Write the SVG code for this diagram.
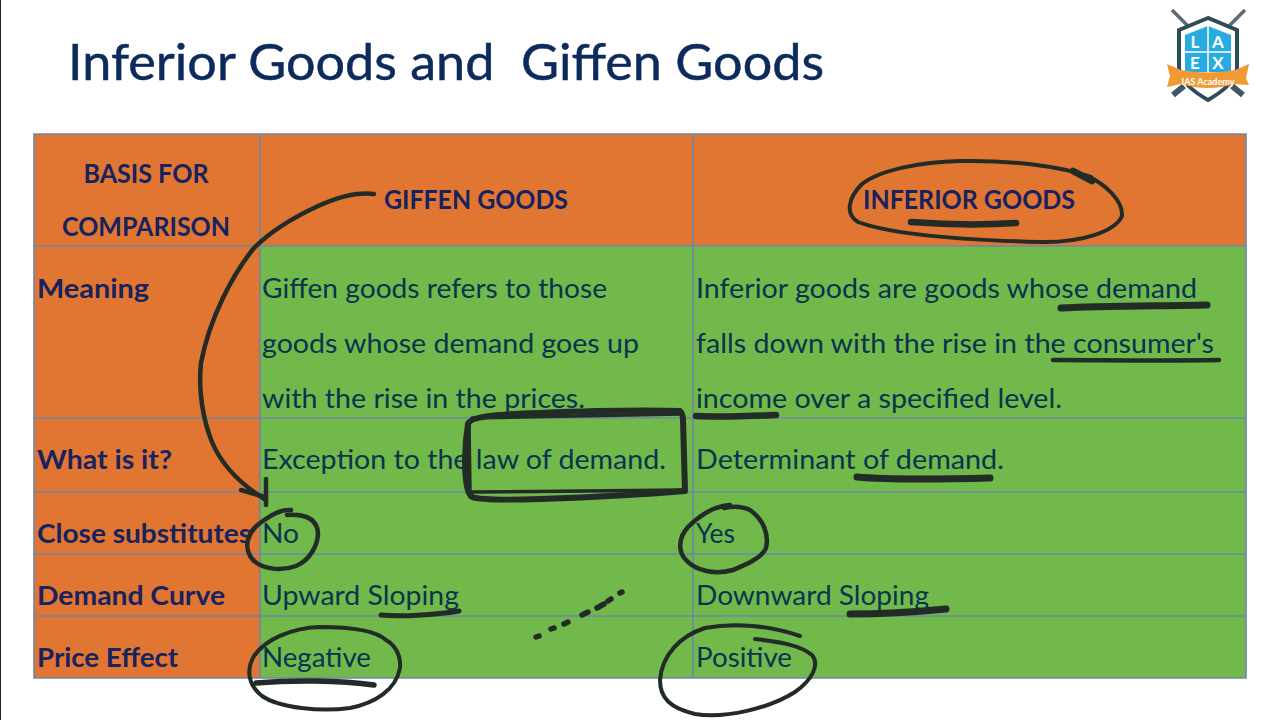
<svg xmlns="http://www.w3.org/2000/svg" width="1280" height="720" viewBox="0 0 1280 720">
<style>
text{font-family:Lato,"Open Sans","Liberation Sans",sans-serif}
.title{font-size:51px;fill:#0c2a5c;stroke:#0c2a5c;stroke-width:.5}
.h{font-size:26px;font-weight:700;fill:#17225e}
.b{font-size:27px;fill:#0b3350}
.o{fill:#e07632}
.g{fill:#70b94a}
.grid{stroke:#6f86a8;stroke-width:1.6;fill:none}
.ink{fill:none;stroke:#232b26;stroke-linecap:round;stroke-linejoin:round}
.logo{font-size:17px;font-weight:700;fill:#fff;text-anchor:middle}
</style>
<rect width="1280" height="720" fill="#fff"/>
<rect x="0" y="0" width="1" height="720" fill="#222"/>
<text class="title" x="68" y="80" textLength="756" lengthAdjust="spacingAndGlyphs" xml:space="preserve">Inferior Goods and  Giffen Goods</text>

<g id="logo">
<path d="M1172 10L1190 28M1245 10L1227 28" stroke="#5d6b72" stroke-width="3.5" fill="none"/>
<path d="M1173 95L1184 86M1243 95L1232 86" stroke="#3f5560" stroke-width="6" fill="none"/>
<path d="M1208 18L1179 30V68Q1180 84 1208 100Q1236 84 1237 68V30Z" fill="#fff" stroke="#2f4a58" stroke-width="4"/>
<path d="M1208 26L1185 35V72H1231V35Z" fill="#29abe2"/>
<path d="M1208 26V72M1185 52H1231" stroke="#fff" stroke-width="1.5"/>
<text class="logo" x="1195" y="48">L</text><text class="logo" x="1218" y="48">A</text>
<text class="logo" x="1195" y="69">E</text><text class="logo" x="1218" y="69">X</text>
<path d="M1167 64L1181 70Q1208 75 1235 70L1249 64L1246 78L1249 85L1235 84Q1208 92 1181 84L1167 87L1170 76Z" fill="#ef9a33"/>
<text x="1208" y="85" font-size="9" fill="#fff" text-anchor="middle" font-weight="700">IAS Academy</text>
</g>

<g id="table">
<rect class="o" x="34" y="134" width="1212" height="112"/>
<rect class="o" x="34" y="246" width="226" height="432"/>
<rect class="g" x="260" y="246" width="986" height="432"/>
<path class="grid" d="M34 134H1246V678H34ZM260 134V678M693 134V678M34 246H1246M34 418H1246M34 492H1246M34 554H1246M34 616H1246"/>
</g>

<g id="header">
<text class="h" x="146" y="183" text-anchor="middle" textLength="125" lengthAdjust="spacingAndGlyphs">BASIS FOR</text>
<text class="h" x="146" y="236" text-anchor="middle" textLength="168" lengthAdjust="spacingAndGlyphs">COMPARISON</text>
<text class="h" x="384" y="209" textLength="184" lengthAdjust="spacingAndGlyphs">GIFFEN GOODS</text>
<text class="h" x="863" y="209" textLength="212" lengthAdjust="spacingAndGlyphs">INFERIOR GOODS</text>
</g>
<g id="row-meaning">
<text class="h" x="37" y="298" font-size="27" textLength="112" lengthAdjust="spacingAndGlyphs">Meaning</text>
<text class="b" x="262" y="298" textLength="345" lengthAdjust="spacingAndGlyphs">Giffen goods refers to those</text>
<text class="b" x="262" y="353" textLength="377" lengthAdjust="spacingAndGlyphs">goods whose demand goes up</text>
<text class="b" x="262" y="408" textLength="323" lengthAdjust="spacingAndGlyphs">with the rise in the prices.</text>
<text class="b" x="696" y="298" textLength="501" lengthAdjust="spacingAndGlyphs">Inferior goods are goods whose demand</text>
<text class="b" x="696" y="353" textLength="518" lengthAdjust="spacingAndGlyphs">falls down with the rise in the consumer's</text>
<text class="b" x="696" y="408" textLength="366" lengthAdjust="spacingAndGlyphs">income over a specified level.</text>
</g>
<g id="row-what">
<text class="h" x="37" y="469" textLength="135" lengthAdjust="spacingAndGlyphs">What is it?</text>
<text class="b" x="262" y="469" textLength="404" lengthAdjust="spacingAndGlyphs">Exception to the law of demand.</text>
<text class="b" x="696" y="469" textLength="308" lengthAdjust="spacingAndGlyphs">Determinant of demand.</text>
</g>
<g id="row-substitutes">
<text class="h" x="37" y="543" textLength="214" lengthAdjust="spacingAndGlyphs">Close substitutes</text>
<text class="b" x="262" y="543" textLength="37" lengthAdjust="spacingAndGlyphs">No</text>
<text class="b" x="696" y="543" textLength="39" lengthAdjust="spacingAndGlyphs">Yes</text>
</g>
<g id="row-curve">
<text class="h" x="37" y="605" textLength="188" lengthAdjust="spacingAndGlyphs">Demand Curve</text>
<text class="b" x="262" y="605" textLength="197" lengthAdjust="spacingAndGlyphs">Upward Sloping</text>
<text class="b" x="696" y="605" textLength="233" lengthAdjust="spacingAndGlyphs">Downward Sloping</text>
</g>
<g id="row-price">
<text class="h" x="37" y="667" textLength="141" lengthAdjust="spacingAndGlyphs">Price Effect</text>
<text class="b" x="262" y="667" textLength="109" lengthAdjust="spacingAndGlyphs">Negative</text>
<text class="b" x="696" y="667" textLength="96" lengthAdjust="spacingAndGlyphs">Positive</text>
</g>

<g id="connectors">
<path class="ink" stroke-width="4.5" d="M374 194C360 192 340 196 318 206C290 219 268 234 254 248C232 275 209 320 201 363C198 390 203 420 212 442C222 466 240 484 266 500"/>
<path class="ink" stroke-width="4.5" d="M266 479L266 505M241 490L265 497"/>
<path class="ink" stroke-width="6" d="M468 424C470 416 500 414 540 413C590 411 640 410 680 411Q683 414 683 420L685 491C650 494 600 497 540 499C510 500 480 500 472 497C467 494 465 480 465 460L466 440L468 424"/>
<path class="ink" stroke-width="3.5" d="M472 418L682 414M471 492L684 490M469 425L470 492"/>
<path class="ink" stroke-width="4.5" d="M291 510C280 509 270 516 260 523C248 532 244 545 250 556C258 569 280 572 296 566C310 560 318 545 318 533C317 519 305 514 287 515"/>
<path class="ink" stroke-width="4.5" d="M730 505C715 506 700 515 688 527C678 538 678 552 686 560C696 571 715 575 733 570C745 565 762 558 766 548C769 535 764 520 750 510C742 506 733 506 724 508"/>
<path class="ink" stroke-width="4" d="M386 640C375 630 350 627 320 627C290 628 265 640 254 656C246 670 248 685 262 696C280 708 320 712 350 708C375 703 396 690 400 668C401 655 395 645 386 640"/>
<path class="ink" stroke-width="5.5" d="M256 683C290 680 340 680 374 685"/>
<path class="ink" stroke-width="4" d="M800 636C770 626 735 622 705 628C680 636 662 655 660 680C660 698 670 708 695 714C725 719 770 708 795 692C812 680 820 665 812 655C800 645 780 642 755 639"/>
<path class="ink" stroke-width="4" d="M1091 177C1060 166 1010 160 960 161C920 162 880 170 862 184C848 198 845 214 858 222C890 234 960 240 1040 242C1080 243 1115 232 1122 216C1123 200 1105 185 1090 177"/>
<path class="ink" stroke-width="6.5" d="M1073 171L1092 181M911 222C950 225 985 225 1016 223"/>
<path class="ink" stroke-width="7" d="M1061 308C1100 306 1160 306 1207 305"/>
<path class="ink" stroke-width="4.5" d="M1053 360C1100 360 1160 361 1219 360"/>
<path class="ink" stroke-width="6.5" d="M696 416C720 417 760 416 776 415"/>
<path class="ink" stroke-width="7" d="M857 477C890 480 950 479 990 478"/>
<path class="ink" stroke-width="5" d="M381 615C400 617 435 615 459 611"/>
<path class="ink" stroke-width="7" d="M850 614C880 614 915 612 946 609"/>
<path class="ink" stroke-width="5.5" d="M536 637L539 636M551 629L554 628M564 624L568 622M582 615L588 612M597 608L604 604M608 601L611 599M620 593L622 592"/>
</g>
</svg>
